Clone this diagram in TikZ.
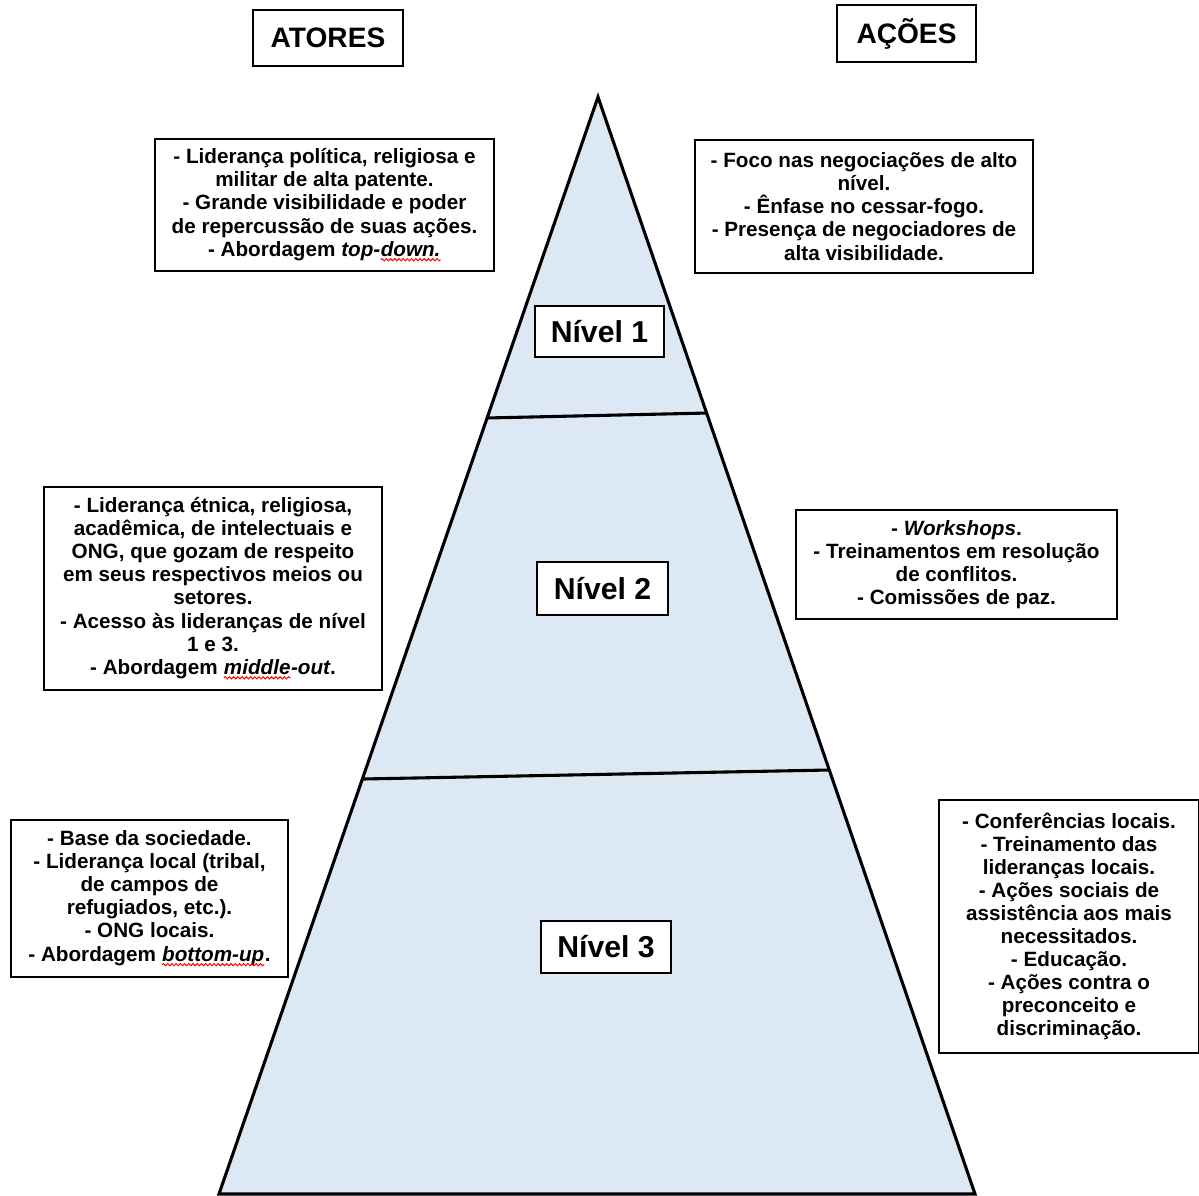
\documentclass[tikz,border=0pt]{standalone}
\usepackage{fontspec}
\setmainfont{Liberation Sans}
\usetikzlibrary{calc,decorations.pathmorphing}

% red spell-check wave under a word
\newcommand\redwave[1]{\tikz[baseline=(w.base)]{%
    \node[draw=none, fill=none, inner sep=0pt, outer sep=0pt, minimum width=0pt, minimum height=0pt] (w) {#1};
    \draw[red, line width=0.7pt, decorate, decoration={snake, amplitude=0.8pt, segment length=3pt}]
        ([yshift=-2.6pt]w.base west) -- ([yshift=-2.6pt]w.base east);}}

\definecolor{pyrfill}{HTML}{DDE8F5}

\tikzset{
    txtbox/.style 2 args={draw, line width=1.3pt, fill=white, align=center, inner sep=0pt,
        minimum width=#1*0.025cm, minimum height=#2*0.025cm,
        font=\fontsize{14.7}{16.4}\selectfont\bfseries},
    titlebox/.style 2 args={txtbox={#1}{#2}, font=\fontsize{20}{22}\selectfont\bfseries},
    levelbox/.style 2 args={txtbox={#1}{#2}, font=\fontsize{21.5}{23}\selectfont\bfseries},
    pyr/.style={draw, line width=2.2pt, fill=pyrfill}
}

\begin{document}
\begin{tikzpicture}[x=0.025cm, y=-0.025cm]
    \useasboundingbox (0,0) rectangle (1199,1196);

    % Pyramid corners
    \coordinate (apex) at (598,97);
    \coordinate (bl) at (219,1194);
    \coordinate (br) at (975,1194);

    % Draw the pyramid
    \filldraw[pyr] (apex) -- (bl) -- (br) -- cycle;

    % Divide the pyramid into levels
    \coordinate (d1l) at ($(apex)!0.2926!(bl)$);
    \coordinate (d1r) at ($(apex)!0.2881!(br)$);
    \coordinate (d2l) at ($(apex)!0.6217!(bl)$);
    \coordinate (d2r) at ($(apex)!0.6135!(br)$);
    \draw[line width=2.2pt] (d1l) -- (d1r);
    \draw[line width=2.2pt] (d2l) -- (d2r);

    % Column titles
    \node[titlebox={150}{56}] (atores) at (328,38) {ATORES};
    \node[titlebox={139}{57}] (acoes) at (906.5,33.5) {AÇÕES};

    % Level labels
    \node[levelbox={129}{51}] (nivel1) at (599.5,331.5) {Nível 1};
    \node[levelbox={131}{53}] (nivel2) at (602.5,588.5) {Nível 2};
    \node[levelbox={130}{52}] (nivel3) at (606,947) {Nível 3};

    % Actors, one box per level
    \node[txtbox={339}{132}] (atores1) at (324.5,205) {%
        - Liderança política, religiosa e\\
        militar de alta patente.\\
        - Grande visibilidade e poder\\
        de repercussão de suas ações.\\
        - Abordagem \textit{top-\redwave{down.}}};
    \node[txtbox={338}{203}] (atores2) at (213,588.5) {%
        - Liderança étnica, religiosa,\\
        acadêmica, de intelectuais e\\
        ONG, que gozam de respeito\\
        em seus respectivos meios ou\\
        setores.\\
        - Acesso às lideranças de nível\\
        1 e 3.\\
        - Abordagem \textit{\redwave{middle}-out}.};
    \node[txtbox={277}{157}] (atores3) at (149.5,898.5) {%
        - Base da sociedade.\\
        - Liderança local (tribal,\\
        de campos de\\
        refugiados, etc.).\\
        - ONG locais.\\
        - Abordagem \textit{\redwave{bottom-up}}.};

    % Actions, one box per level
    \node[txtbox={338}{133}] (acoes1) at (864,206.5) {%
        - Foco nas negociações de alto\\
        nível.\\
        - Ênfase no cessar-fogo.\\
        - Presença de negociadores de\\
        alta visibilidade.};
    \node[txtbox={321}{109}] (acoes2) at (956.5,564.5) {%
        - \textit{Workshops}.\\
        - Treinamentos em resolução\\
        de conflitos.\\
        - Comissões de paz.};
    \node[txtbox={260}{253}] (acoes3) at (1069,926.5) {%
        - Conferências locais.\\
        - Treinamento das\\
        lideranças locais.\\
        - Ações sociais de\\
        assistência aos mais\\
        necessitados.\\
        - Educação.\\
        - Ações contra o\\
        preconceito e\\
        discriminação.};
\end{tikzpicture}
\end{document}
